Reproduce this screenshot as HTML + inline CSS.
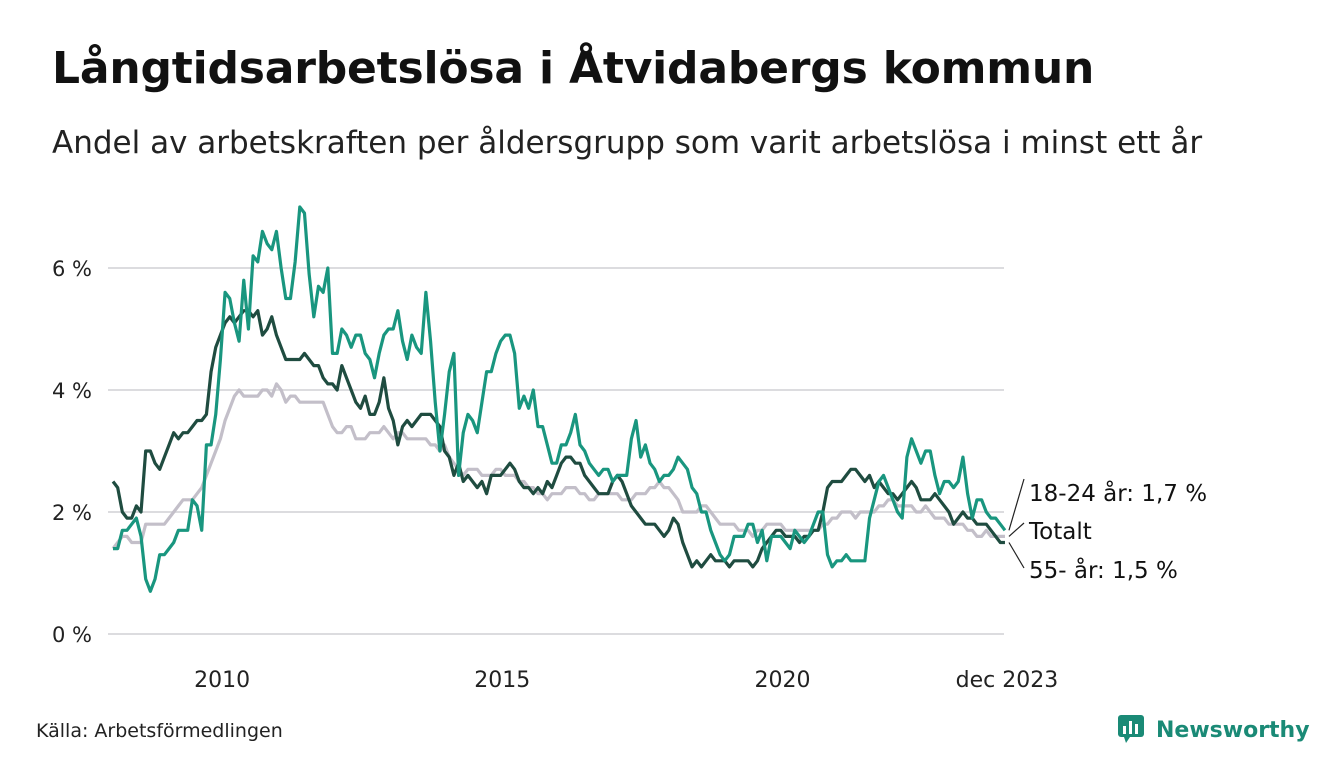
<!DOCTYPE html>
<html><head><meta charset="utf-8"><style>
body{margin:0;background:#fff;width:1340px;height:780px;overflow:hidden;font-family:"DejaVu Sans","Liberation Sans",sans-serif;color:#111}
#title{position:absolute;left:52px;top:43px;font-size:44px;font-weight:bold;margin:0;letter-spacing:-0.2px;white-space:nowrap}
#sub{position:absolute;left:52px;top:125px;font-size:31px;color:#222;white-space:nowrap}
#src{position:absolute;left:36px;top:720px;font-size:19px;color:#222}
#logo{position:absolute;left:1118px;top:713px;font-size:22px;font-weight:bold;color:#1a8a76;white-space:nowrap}
svg{position:absolute;left:0;top:0}
</style></head><body>
<h1 id="title">Långtidsarbetslösa i Åtvidabergs kommun</h1>
<div id="sub">Andel av arbetskraften per åldersgrupp som varit arbetslösa i minst ett år</div>
<div id="src">Källa: Arbetsförmedlingen</div>
<div id="logo"><svg width="28" height="30" style="position:relative;vertical-align:-6px;margin-right:10px"><rect x="0" y="2" width="26" height="22" rx="3" fill="#1a8a76"/><polygon points="6,24 12,24 8,30" fill="#1a8a76"/><rect x="5" y="13" width="3" height="8" fill="#fff"/><rect x="11" y="8" width="3" height="13" fill="#fff"/><rect x="17" y="11" width="3" height="10" fill="#fff"/></svg>Newsworthy</div>
<svg id="chart" width="1340" height="780"></svg>
<script>
const yTicks=[0,2,4,6];
const yTickLabels=["0 %","2 %","4 %","6 %"];
const xTicks=[2010,2015,2020];
const xTickLabels=["2010","2015","2020"];
const total=[1.4,1.5,1.6,1.6,1.5,1.5,1.5,1.8,1.8,1.8,1.8,1.8,
1.9,2.0,2.1,2.2,2.2,2.2,2.3,2.4,2.6,2.8,3.0,3.2,
3.5,3.7,3.9,4.0,3.9,3.9,3.9,3.9,4.0,4.0,3.9,4.1,
4.0,3.8,3.9,3.9,3.8,3.8,3.8,3.8,3.8,3.8,3.6,3.4,
3.3,3.3,3.4,3.4,3.2,3.2,3.2,3.3,3.3,3.3,3.4,3.3,
3.2,3.3,3.3,3.2,3.2,3.2,3.2,3.2,3.1,3.1,3.0,3.1,
2.9,2.8,2.7,2.6,2.7,2.7,2.7,2.6,2.6,2.6,2.7,2.7,
2.6,2.6,2.6,2.5,2.5,2.4,2.4,2.3,2.3,2.2,2.3,2.3,
2.3,2.4,2.4,2.4,2.3,2.3,2.2,2.2,2.3,2.3,2.3,2.3,
2.3,2.2,2.2,2.2,2.3,2.3,2.3,2.4,2.4,2.5,2.4,2.4,
2.3,2.2,2.0,2.0,2.0,2.0,2.1,2.1,2.0,1.9,1.8,1.8,
1.8,1.8,1.7,1.7,1.7,1.6,1.7,1.7,1.8,1.8,1.8,1.8,
1.7,1.7,1.7,1.7,1.7,1.7,1.7,1.7,1.8,1.8,1.9,1.9,
2.0,2.0,2.0,1.9,2.0,2.0,2.0,2.0,2.1,2.1,2.2,2.2,
2.1,2.1,2.1,2.1,2.0,2.0,2.1,2.0,1.9,1.9,1.9,1.8,
1.8,1.8,1.8,1.7,1.7,1.6,1.6,1.7,1.6,1.6,1.6,1.6];
const age55=[2.5,2.4,2.0,1.9,1.9,2.1,2.0,3.0,3.0,2.8,2.7,2.9,
3.1,3.3,3.2,3.3,3.3,3.4,3.5,3.5,3.6,4.3,4.7,4.9,
5.1,5.2,5.1,5.2,5.3,5.3,5.2,5.3,4.9,5.0,5.2,4.9,
4.7,4.5,4.5,4.5,4.5,4.6,4.5,4.4,4.4,4.2,4.1,4.1,
4.0,4.4,4.2,4.0,3.8,3.7,3.9,3.6,3.6,3.8,4.2,3.7,
3.5,3.1,3.4,3.5,3.4,3.5,3.6,3.6,3.6,3.5,3.4,3.0,
2.9,2.6,2.8,2.5,2.6,2.5,2.4,2.5,2.3,2.6,2.6,2.6,
2.7,2.8,2.7,2.5,2.4,2.4,2.3,2.4,2.3,2.5,2.4,2.6,
2.8,2.9,2.9,2.8,2.8,2.6,2.5,2.4,2.3,2.3,2.3,2.5,
2.6,2.5,2.3,2.1,2.0,1.9,1.8,1.8,1.8,1.7,1.6,1.7,
1.9,1.8,1.5,1.3,1.1,1.2,1.1,1.2,1.3,1.2,1.2,1.2,
1.1,1.2,1.2,1.2,1.2,1.1,1.2,1.4,1.5,1.6,1.7,1.7,
1.6,1.6,1.6,1.5,1.6,1.6,1.7,1.7,2.0,2.4,2.5,2.5,
2.5,2.6,2.7,2.7,2.6,2.5,2.6,2.4,2.5,2.4,2.3,2.3,
2.2,2.3,2.4,2.5,2.4,2.2,2.2,2.2,2.3,2.2,2.1,2.0,
1.8,1.9,2.0,1.9,1.9,1.8,1.8,1.8,1.7,1.6,1.5,1.5];
const age1824=[1.4,1.4,1.7,1.7,1.8,1.9,1.6,0.9,0.7,0.9,1.3,1.3,
1.4,1.5,1.7,1.7,1.7,2.2,2.1,1.7,3.1,3.1,3.6,4.5,
5.6,5.5,5.1,4.8,5.8,5.0,6.2,6.1,6.6,6.4,6.3,6.6,
6.0,5.5,5.5,6.1,7.0,6.9,5.9,5.2,5.7,5.6,6.0,4.6,
4.6,5.0,4.9,4.7,4.9,4.9,4.6,4.5,4.2,4.6,4.9,5.0,
5.0,5.3,4.8,4.5,4.9,4.7,4.6,5.6,4.8,3.8,3.0,3.6,
4.3,4.6,2.6,3.3,3.6,3.5,3.3,3.8,4.3,4.3,4.6,4.8,
4.9,4.9,4.6,3.7,3.9,3.7,4.0,3.4,3.4,3.1,2.8,2.8,
3.1,3.1,3.3,3.6,3.1,3.0,2.8,2.7,2.6,2.7,2.7,2.5,
2.6,2.6,2.6,3.2,3.5,2.9,3.1,2.8,2.7,2.5,2.6,2.6,
2.7,2.9,2.8,2.7,2.4,2.3,2.0,2.0,1.7,1.5,1.3,1.2,
1.3,1.6,1.6,1.6,1.8,1.8,1.5,1.7,1.2,1.6,1.6,1.6,
1.5,1.4,1.7,1.6,1.5,1.6,1.8,2.0,2.0,1.3,1.1,1.2,
1.2,1.3,1.2,1.2,1.2,1.2,1.9,2.2,2.5,2.6,2.4,2.2,
2.0,1.9,2.9,3.2,3.0,2.8,3.0,3.0,2.6,2.3,2.5,2.5,
2.4,2.5,2.9,2.3,1.9,2.2,2.2,2.0,1.9,1.9,1.8,1.7];
const endLabels=["18-24 år: 1,7 %","Totalt","55- år: 1,5 %"];

const NS="http://www.w3.org/2000/svg";
const FONT='DejaVu Sans, Liberation Sans, sans-serif';
const svg=document.getElementById('chart');
const x0=113,xStep=4.67,yBase=634,yUnit=61;
function xm(i){return x0+i*xStep;}
function xy(year){return x0+(year-2008)*12*xStep;}
function yv(v){return yBase-v*yUnit;}
function mk(t,a){const e=document.createElementNS(NS,t);for(const k in a)e.setAttribute(k,a[k]);svg.appendChild(e);return e;}
yTicks.forEach((t,i)=>{
  const g=mk('line',{x1:108,x2:1004,y1:yv(t),y2:yv(t),stroke:'#dcdcdf','stroke-width':2});
  
  
  const l=mk('text',{x:52,y:yv(t)+8,'font-size':21,fill:'#222','font-family':FONT});
  l.textContent=yTickLabels[i];
  
  
});
xTicks.forEach((t,i)=>{
  const l=mk('text',{x:xy(t)-3,y:687,'font-size':22,fill:'#222','text-anchor':'middle','font-family':FONT});
  l.textContent=xTickLabels[i];
  
  
});
const lastI=total.length-1;
const el=mk('text',{x:xm(lastI)+2,y:687,'font-size':22,fill:'#222','text-anchor':'middle','font-family':FONT});
el.textContent='dec 2023';


function line(arr,color,name){
  const p=mk('polyline',{points:arr.map((v,i)=>xm(i)+','+yv(v)).join(' '),fill:'none',stroke:color,'stroke-width':3.2,'stroke-linejoin':'round'});
  
  
}
line(total,'#c3bfc9','line-totalt');
line(age55,'#1f4c40','line-55-ar');
line(age1824,'#19967f','line-18-24-ar');
const series=[age1824,total,age55];
const labY=[501,539,578];
series.forEach((s,i)=>{
  const ex=xm(s.length-1)+4,ey=yv(s[s.length-1]);
  const ln=mk('line',{x1:ex,y1:ey,x2:1024,y2:labY[i]-16+(i-1)*6,stroke:'#222','stroke-width':1.2});
  
  
  const t=mk('text',{x:1029,y:labY[i],'font-size':23,fill:'#111','font-family':FONT});
  t.textContent=endLabels[i];
  
  
});
</script>
</body></html>
